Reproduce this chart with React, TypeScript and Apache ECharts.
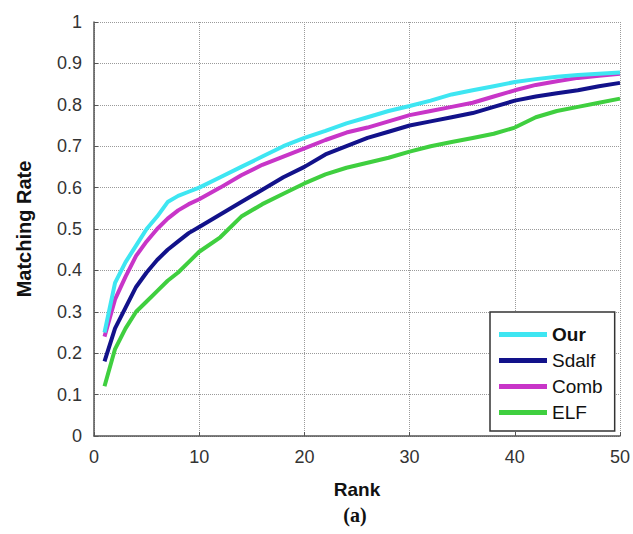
import React, { useEffect, useRef } from "react";
import * as echarts from "echarts";

const ranks = [1, 2, 3, 4, 5, 6, 7, 8, 9, 10, 12, 14, 16, 18, 20, 22, 24, 26, 28, 30, 32, 34, 36, 38, 40, 42, 44, 46, 48, 50];
const ourValues = [0.25, 0.37, 0.42, 0.46, 0.5, 0.53, 0.565, 0.58, 0.59, 0.6, 0.625, 0.65, 0.675, 0.7, 0.72, 0.737, 0.755, 0.77, 0.785, 0.797, 0.81, 0.825, 0.835, 0.845, 0.855, 0.862, 0.868, 0.872, 0.875, 0.878];
const sdalfValues = [0.18, 0.26, 0.31, 0.36, 0.395, 0.425, 0.45, 0.47, 0.49, 0.505, 0.535, 0.565, 0.595, 0.625, 0.65, 0.68, 0.7, 0.72, 0.735, 0.75, 0.76, 0.77, 0.78, 0.795, 0.81, 0.82, 0.828, 0.835, 0.845, 0.853];
const combValues = [0.24, 0.33, 0.385, 0.435, 0.47, 0.5, 0.525, 0.545, 0.56, 0.572, 0.6, 0.63, 0.655, 0.675, 0.695, 0.715, 0.733, 0.745, 0.76, 0.775, 0.785, 0.795, 0.805, 0.82, 0.835, 0.848, 0.857, 0.865, 0.87, 0.875];
const elfValues = [0.12, 0.21, 0.26, 0.3, 0.325, 0.35, 0.375, 0.395, 0.42, 0.445, 0.48, 0.53, 0.56, 0.585, 0.61, 0.632, 0.648, 0.66, 0.672, 0.687, 0.7, 0.71, 0.72, 0.73, 0.745, 0.77, 0.785, 0.795, 0.805, 0.815];

const seriesNames = ["Our", "Sdalf", "Comb", "ELF"];
const seriesColors = ["#3ee6f2", "#12128a", "#c835c8", "#3fcf3f"];
const seriesValues = [ourValues, sdalfValues, combValues, elfValues];

export default function App() {
  const ref = useRef<HTMLDivElement>(null);
  useEffect(() => {
    if (!ref.current) return;
    const chart = echarts.init(ref.current, undefined, { renderer: "svg" });
    const font = "Liberation Sans, Arial, sans-serif";
    chart.setOption({
      animation: false,
      backgroundColor: "#ffffff",
      grid: { left: 94, right: 13, top: 22, bottom: 98 },
      xAxis: {
        type: "value",
        min: 0,
        max: 50,
        interval: 10,
        name: "Rank",
        nameLocation: "middle",
        nameGap: 44,
        nameTextStyle: { fontFamily: font, fontSize: 19, fontWeight: "bold", color: "#111" },
        axisLine: { lineStyle: { color: "#555", width: 1.5 } },
        axisTick: { inside: true, length: 4, lineStyle: { color: "#555" } },
        axisLabel: { fontFamily: font, fontSize: 18, color: "#333", margin: 12 },
        splitLine: { show: true, lineStyle: { type: "dotted", color: "#9a9a9a", width: 1 } },
      },
      yAxis: {
        type: "value",
        min: 0,
        max: 1,
        interval: 0.1,
        name: "Matching Rate",
        nameLocation: "middle",
        nameGap: 60,
        nameRotate: 90,
        nameTextStyle: { fontFamily: font, fontSize: 20, fontWeight: "bold", color: "#111" },
        axisLine: { show: true, lineStyle: { color: "#555", width: 1.5 } },
        axisTick: { show: true, inside: true, length: 4, lineStyle: { color: "#555" } },
        axisLabel: {
          fontFamily: font,
          fontSize: 18,
          color: "#333",
          margin: 12,
          formatter: (v: number) => (Math.round(v * 10) / 10).toString(),
        },
        splitLine: { show: true, lineStyle: { type: "dotted", color: "#9a9a9a", width: 1 } },
      },
      legend: {
        orient: "vertical",
        left: 490,
        top: 312,
        itemWidth: 48,
        itemHeight: 5,
        itemGap: 7,
        icon: "rect",
        padding: [13, 12, 9, 9],
        backgroundColor: "#ffffff",
        borderColor: "#333",
        borderWidth: 1.5,
        borderRadius: 0,
        textStyle: { fontFamily: font, fontSize: 19, color: "#111" },
        data: [
          { name: "Our", textStyle: { fontWeight: "bold" } },
          { name: "Sdalf" },
          { name: "Comb" },
          { name: "ELF" },
        ],
      },
      series: seriesNames.map((name, i) => ({
        name,
        type: "line",
        showSymbol: false,
        symbol: "none",
        smooth: false,
        color: seriesColors[i],
        lineStyle: { width: 4, color: seriesColors[i] },
        data: ranks.map((r, j) => [r, seriesValues[i][j]]),
        z: 10 - i,
      })),
      graphic: [
        {
          type: "text",
          x: 355,
          y: 515,
          style: {
            text: "(a)",
            fontFamily: "Liberation Serif, Times New Roman, serif",
            fontSize: 20,
            fontWeight: "bold",
            fill: "#111",
            align: "center",
            verticalAlign: "middle",
          },
        },
      ],
    });
    return () => chart.dispose();
  }, []);
  return (
    <div
      ref={ref}
      style={{ position: "fixed", left: 0, top: 0, width: 633, height: 534 }}
    />
  );
}
